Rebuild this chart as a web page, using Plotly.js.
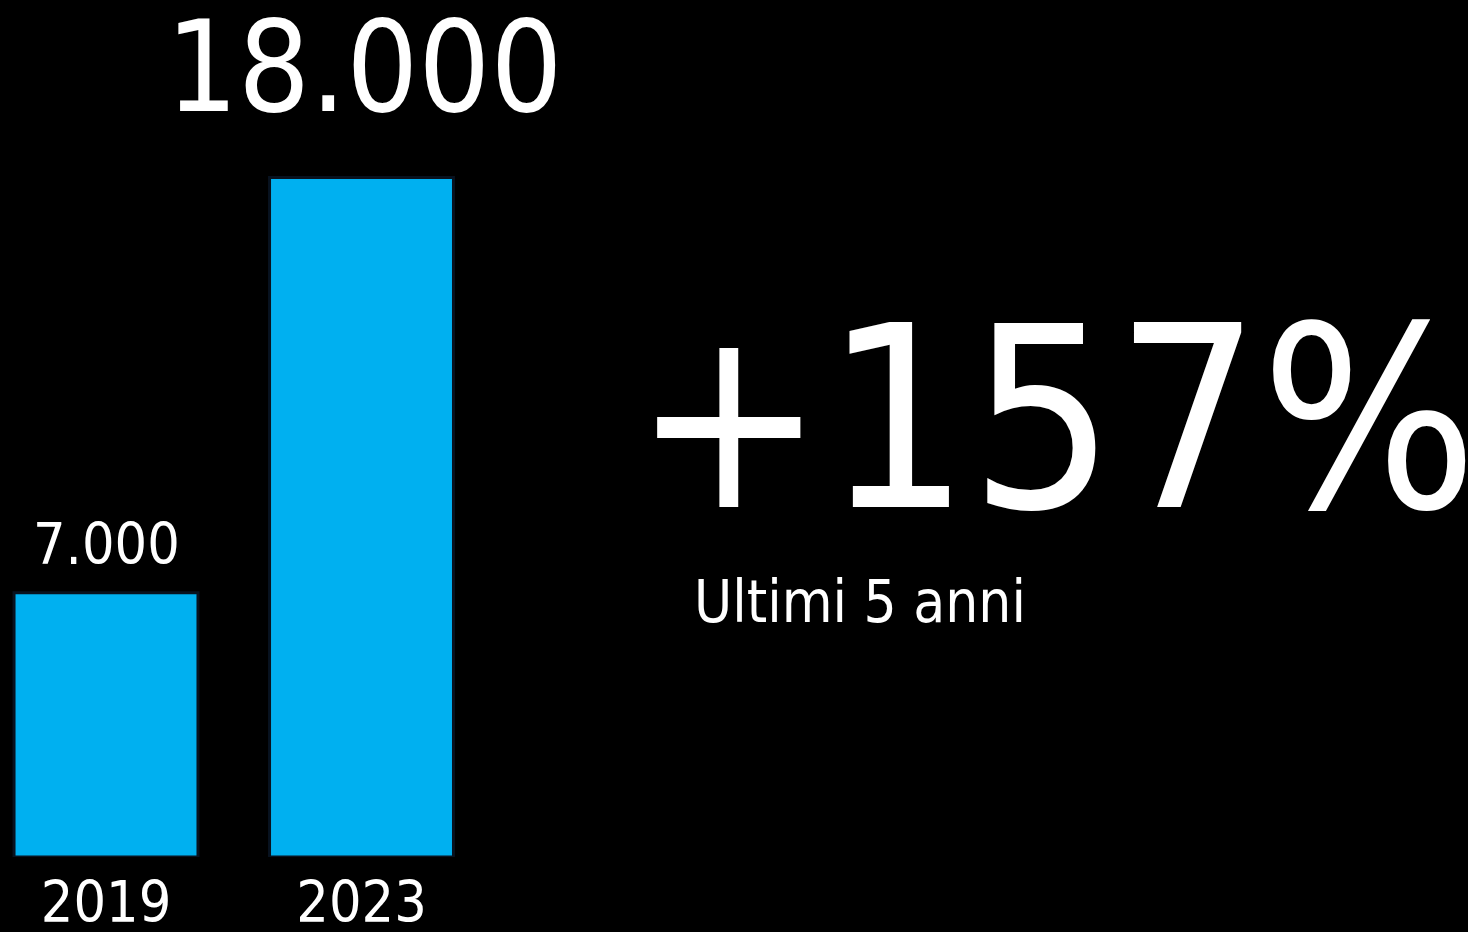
<!DOCTYPE html>
<html><head><meta charset="utf-8">
<script src="https://cdn.plot.ly/plotly-3.0.1.min.js"></script>
<style>html,body{margin:0;padding:0;background:#000;}#chart{width:1468px;height:932px;}</style>
</head><body><div id="chart"></div>
<script>
const years = ['2019', '2023'];
const values = [7000, 18000];
const valueFontSizes = [57, 126];
const bigText = '+157%';
const subText = 'Ultimi 5 anni';

const FONT = '"DejaVu Sans Condensed", "Liberation Sans", sans-serif';
function fmt(v){ return String(Math.round(v)).replace(/\B(?=(\d{3})+(?!\d))/g, '.'); }

const trace = {
  type: 'bar', x: [0, 1], y: values,
  marker: {color: '#00B0F0', line: {color: '#08121f', width: 3}},
  hoverinfo: 'skip'
};

const labelShift = [49, 110];
const labelXShift = [0, 3];
const annotations = years.map((yr, i) => ({
  x: i, y: values[i], xref: 'x', yref: 'y', text: fmt(values[i]),
  showarrow: false, xanchor: 'center', yanchor: 'middle',
  font: {family: FONT, size: valueFontSizes[i], color: '#ffffff'},
  yshift: labelShift[i], xshift: labelXShift[i]
}));
annotations.push({
  x: 1055/1468, y: 1 - 419/857, xref: 'paper', yref: 'paper', text: bigText,
  showarrow: false, xanchor: 'center', yanchor: 'middle',
  font: {family: FONT, size: 254, color: '#ffffff'}
});
annotations.push({
  x: 692/1468, y: 1 - 602/857, xref: 'paper', yref: 'paper', text: subText,
  showarrow: false, xanchor: 'left', yanchor: 'middle',
  font: {family: FONT, size: 58, color: '#ffffff'}
});

const layout = {
  width: 1468, height: 932,
  margin: {l: 0, r: 0, t: 0, b: 75, pad: 0},
  paper_bgcolor: '#000000', plot_bgcolor: '#000000',
  showlegend: false, bargap: 0.28,
  xaxis: {range: [-0.4149, 5.3307], showgrid: false, zeroline: false,
          showline: false, ticks: '', tickmode: 'array', tickvals: [0, 1], ticktext: years,
          tickfont: {family: FONT, size: 57, color: '#ffffff'},
          ticklabelstandoff: 7, fixedrange: true},
  yaxis: {range: [0, 22700], visible: false, showgrid: false, zeroline: false, fixedrange: true},
  annotations: annotations
};
Plotly.newPlot('chart', [trace], layout, {displayModeBar: false, staticPlot: true});
</script></body></html>
